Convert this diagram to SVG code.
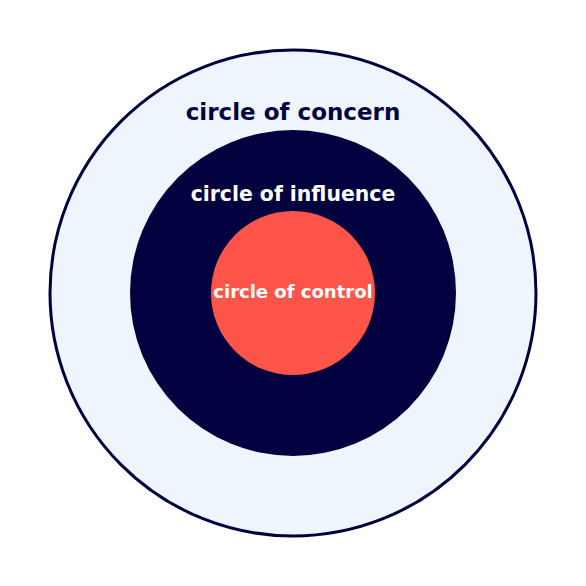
<svg xmlns="http://www.w3.org/2000/svg" width="586" height="586" viewBox="0 0 586 586">
<style>
text{font-family:"DejaVu Sans",sans-serif;font-weight:bold;text-anchor:middle}
</style>
<rect width="586" height="586" fill="#ffffff"/>
<g id="concern">
<circle cx="293" cy="293" r="243" fill="#EFF5FD" stroke="#020140" stroke-width="3"/>
<text x="293" y="120" font-size="23" fill="#020140">circle of concern</text>
</g>
<g id="influence">
<circle cx="293" cy="293" r="163" fill="#020140"/>
<text x="293" y="200.5" font-size="20.4" fill="#ffffff">circle of influence</text>
</g>
<g id="control">
<circle cx="293" cy="293" r="82" fill="#FF544A"/>
<text x="293" y="298" font-size="18" fill="#ffffff">circle of control</text>
</g>
<g id="connectors"/>
</svg>
